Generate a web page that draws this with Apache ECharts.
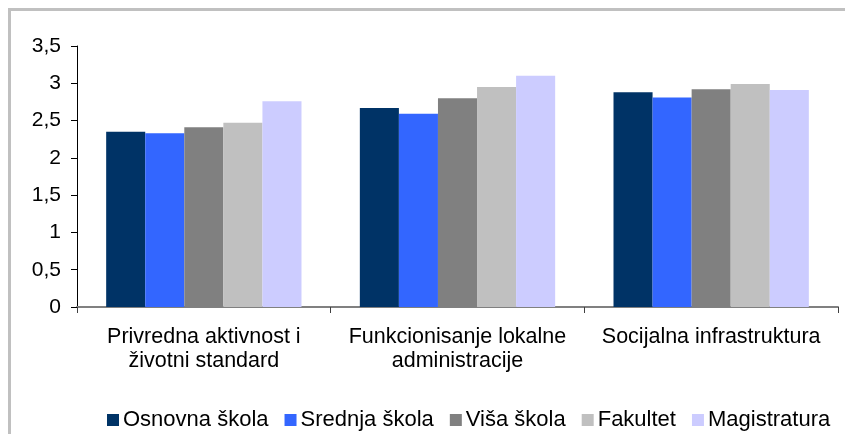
<!DOCTYPE html>
<html>
<head>
<meta charset="utf-8">
<script src="https://cdn.jsdelivr.net/npm/echarts@6/dist/echarts.min.js"></script>
<style>
html,body{margin:0;padding:0;background:#fff;}
#chart{width:845px;height:434px;}
</style>
</head>
<body>
<div id="chart"></div>
<script>
const categories = ["Privredna aktivnost i\nživotni standard", "Funkcionisanje lokalne\nadministracije", "Socijalna infrastruktura"];
const seriesNames = ["Osnovna škola", "Srednja škola", "Viša škola", "Fakultet", "Magistratura"];
const osnovna = [2.35, 2.67, 2.88];
const srednja = [2.33, 2.59, 2.81];
const visa = [2.41, 2.80, 2.92];
const fakultet = [2.47, 2.95, 2.99];
const magistratura = [2.76, 3.10, 2.91];
const yTicks = [0, 0.5, 1, 1.5, 2, 2.5, 3, 3.5];
const colors = ["#003366", "#3366FF", "#808080", "#C0C0C0", "#CCCCFF"];

const values = [osnovna, srednja, visa, fakultet, magistratura];
const font = "Liberation Sans, Arial, sans-serif";

const chart = echarts.init(document.getElementById('chart'), null, {renderer: 'canvas'});
chart.setOption({
  animation: false,
  backgroundColor: '#fff',
  graphic: [{
    type: 'rect',
    shape: {x: 9.5, y: 9.5, width: 860, height: 450},
    style: {fill: 'none', stroke: '#C0C0C0', lineWidth: 3},
    silent: true
  }],
  grid: {left: 77, right: 7, top: 46, bottom: 127, containLabel: false},
  legend: {
    data: seriesNames,
    top: 404,
    left: 102,
    itemWidth: 12,
    itemHeight: 12,
    itemGap: 16,
    icon: 'rect',
    textStyle: {fontFamily: font, fontSize: 22, color: '#000', padding: [0, 0, 0, -1]}
  },
  xAxis: {
    type: 'category',
    data: categories,
    axisLine: {lineStyle: {color: '#808080', width: 2}},
    axisTick: {show: true, length: 6, alignWithLabel: false, lineStyle: {color: '#404040'}},
    axisLabel: {fontFamily: font, fontSize: 21.5, color: '#000', margin: 18, lineHeight: 24, interval: 0}
  },
  yAxis: {
    type: 'value',
    min: 0,
    max: 3.5,
    interval: 0.5,
    axisLine: {show: true, lineStyle: {color: '#000', width: 1}},
    axisTick: {show: true, length: 6, lineStyle: {color: '#000'}},
    splitLine: {show: false},
    axisLabel: {
      fontFamily: font, fontSize: 21, color: '#000', margin: 16,
      formatter: function (v) { return String(v).replace('.', ','); }
    }
  },
  series: seriesNames.map((name, i) => ({
    name: name,
    type: 'bar',
    data: values[i],
    barGap: '0%',
    barCategoryGap: '23%',
    itemStyle: {color: colors[i]}
  }))
});
</script>
</body>
</html>
